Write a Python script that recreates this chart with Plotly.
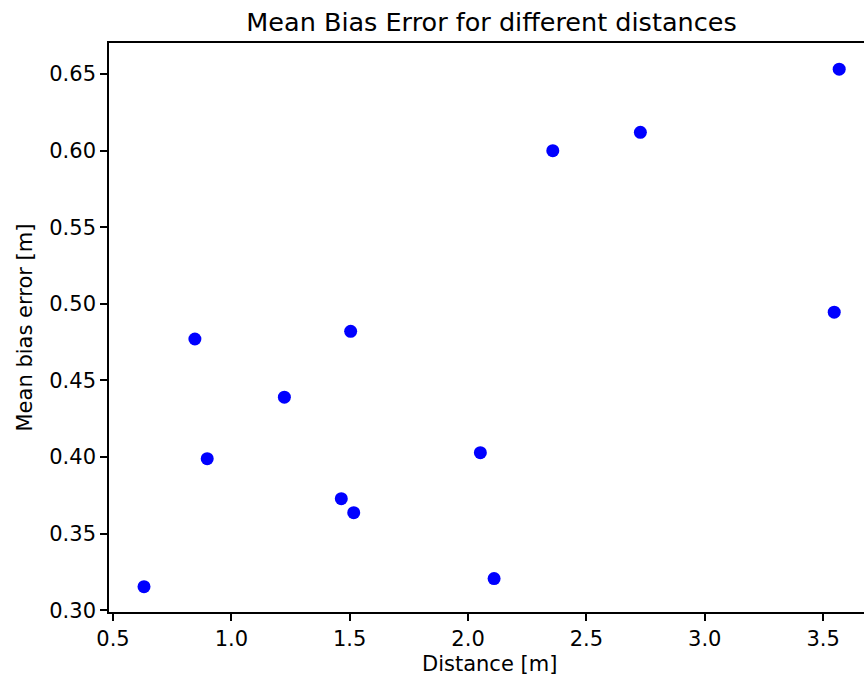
import plotly.graph_objects as go

distance = [0.631, 0.846, 0.898, 1.224, 1.4645, 1.504, 1.517, 2.052, 2.110, 2.358, 2.728, 3.547, 3.568]
mbe = [0.3153, 0.477, 0.3989, 0.439, 0.3728, 0.482, 0.3636, 0.4028, 0.3206, 0.5999, 0.6119, 0.4945, 0.6531]

x_ticks = [0.5, 1.0, 1.5, 2.0, 2.5, 3.0, 3.5]
y_ticks = [0.30, 0.35, 0.40, 0.45, 0.50, 0.55, 0.60, 0.65]

FONT = "DejaVu Sans"

fig = go.Figure()
fig.add_trace(go.Scatter(
    x=distance, y=mbe, mode="markers",
    marker=dict(color="#0000ff", size=13, line=dict(width=0)),
    showlegend=False, hoverinfo="skip",
))

axis_common = dict(
    showgrid=False, zeroline=False, showline=True, linecolor="black", linewidth=1.6,
    ticks="outside", ticklen=7, tickwidth=1.6, tickcolor="black",
    tickfont=dict(family=FONT, size=21, color="black"),
)

fig.update_layout(
    width=864, height=680,
    margin=dict(l=109, r=0, t=43, b=68, pad=0),
    paper_bgcolor="white", plot_bgcolor="white",
    font=dict(family=FONT, color="black"),
    title=dict(text="Mean Bias Error for different distances", x=491.5 / 864, xref="container", xanchor="center",
               y=1 - 21.7 / 680, yref="container", yanchor="middle",
               font=dict(family=FONT, size=25.5, color="black")),
    xaxis=dict(range=[0.4831, 3.6728], tickvals=x_ticks, ticktext=[f"{v:.1f}" for v in x_ticks],
               mirror=True, **axis_common),
    yaxis=dict(range=[0.2988, 0.6702], tickvals=y_ticks, ticktext=[f"{v:.2f}" for v in y_ticks],
               mirror=False, **axis_common),
    annotations=[
        dict(text="Distance [m]", xref="paper", yref="paper", x=(490 - 109) / 755, y=(612 - 664) / 569,
             xanchor="center", yanchor="middle", showarrow=False, font=dict(family=FONT, size=21, color="black")),
        dict(text="Mean bias error [m]", xref="paper", yref="paper", x=(24 - 109) / 755, y=0.5,
             xanchor="center", yanchor="middle", textangle=-90, showarrow=False,
             font=dict(family=FONT, size=21, color="black")),
    ],
)

fig.write_html("out.html")
